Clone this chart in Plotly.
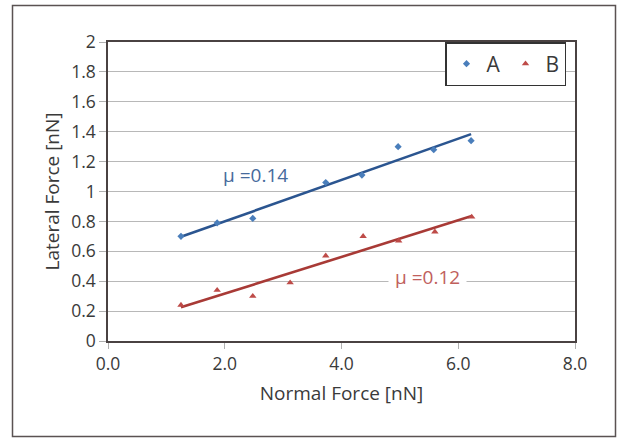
import numpy as np
import plotly.graph_objects as go

# Data
a_x = [1.25, 1.87, 2.48, 3.73, 4.35, 4.97, 5.58, 6.22]
a_y = [0.70, 0.79, 0.82, 1.06, 1.11, 1.30, 1.28, 1.34]
b_x = [1.25, 1.87, 2.48, 3.12, 3.73, 4.37, 4.98, 5.60, 6.23]
b_y = [0.24, 0.34, 0.30, 0.39, 0.57, 0.70, 0.67, 0.73, 0.83]
x_ticks = [0, 2, 4, 6, 8]
x_tick_labels = ["0.0", "2.0", "4.0", "6.0", "8.0"]
y_ticks = [0, 0.2, 0.4, 0.6, 0.8, 1, 1.2, 1.4, 1.6, 1.8, 2]
y_tick_labels = ["0", "0.2", "0.4", "0.6", "0.8", "1", "1.2", "1.4", "1.6", "1.8", "2"]

FONT = "Open Sans"
TXT = "#3a3a3a"
W, H = 617, 439
L, R, T, B = 108, 42, 42, 98
pw, ph = W - L - R, H - T - B


def fit(xs, ys):
    k, c = np.polyfit(xs, ys, 1)
    xx = np.array([min(xs), max(xs)])
    return xx, k * xx + c


fig = go.Figure()
ax_line, ay_line = fit(a_x, a_y)
bx_line, by_line = fit(b_x, b_y)
fig.add_trace(go.Scatter(x=ax_line, y=ay_line, mode="lines", showlegend=False,
                         line=dict(color="#2b5590", width=2.6), hoverinfo="skip"))
fig.add_trace(go.Scatter(x=bx_line, y=by_line, mode="lines", showlegend=False,
                         line=dict(color="#a83a36", width=2.6), hoverinfo="skip"))
fig.add_trace(go.Scatter(x=a_x, y=a_y, mode="markers", name="A",
                         marker=dict(symbol="diamond", size=5.5, color="#4a7ebb")))
fig.add_trace(go.Scatter(x=b_x, y=b_y, mode="markers", name="B",
                         marker=dict(symbol="triangle-up", size=6.5, color="#be4b48")))


def px_x(p):
    return (p - L) / pw


def px_y(p):
    return (H - B - p) / ph


fig.add_shape(type="rect", xref="paper", yref="paper",
              x0=px_x(12.5), x1=px_x(615.5), y0=px_y(436.5), y1=px_y(5.5),
              line=dict(color="#5a5252", width=1.5), layer="below")

fig.add_annotation(x=2.52, y=1.11, text="μ =0.14", showarrow=False,
                   font=dict(family=FONT, size=19, color="#466a9c"))
fig.add_annotation(x=5.48, y=0.43, text="μ =0.12", showarrow=False,
                   bgcolor="white", borderpad=6,
                   font=dict(family=FONT, size=19, color="#c0605c"))

fig.update_layout(
    width=W, height=H,
    margin=dict(l=L, r=R, t=T, b=B, autoexpand=False),
    paper_bgcolor="white", plot_bgcolor="white",
    font=dict(family=FONT, color=TXT),
    legend=dict(orientation="h", x=px_x(566), xanchor="right", y=1, yanchor="top",
                bordercolor="#333333", borderwidth=1.5, bgcolor="white",
                font=dict(family=FONT, size=21, color=TXT), itemwidth=30),
    xaxis=dict(range=[0, 8], tickvals=x_ticks, ticktext=x_tick_labels,
               showgrid=False, zeroline=False,
               showline=True, linecolor="#4a4242", linewidth=1.5, mirror=True,
               ticks="outside", ticklen=6, tickcolor="#b0b0b0",
               tickfont=dict(family=FONT, size=17.5, color=TXT),
               title=dict(text="Normal Force [nN]", standoff=13,
                          font=dict(family=FONT, size=19, color=TXT))),
    yaxis=dict(range=[0, 2], tickvals=y_ticks, ticktext=y_tick_labels,
               showgrid=True, gridcolor="#b8b8b8", gridwidth=1.2, zeroline=False,
               showline=True, linecolor="#4a4242", linewidth=1.5, mirror=True,
               ticks="outside", ticklen=7, tickcolor="#b0b0b0",
               tickfont=dict(family=FONT, size=17.5, color=TXT),
               title=dict(text="Lateral Force [nN]", standoff=6,
                          font=dict(family=FONT, size=19, color=TXT))),
)

fig.write_html("out.html")
